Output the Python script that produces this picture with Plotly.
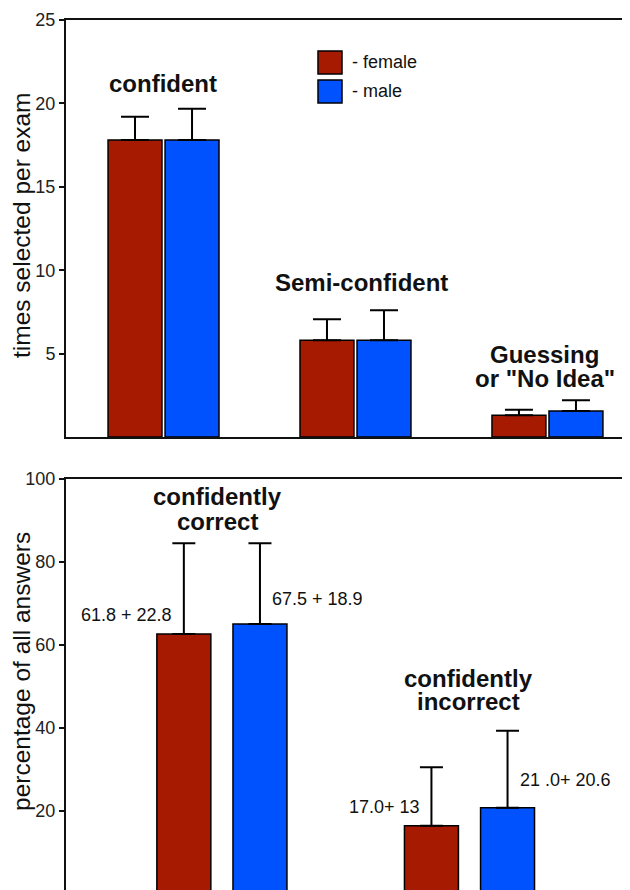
import plotly.graph_objects as go

# ---------------- data ----------------
top_categories = ['confident', 'Semi-confident', 'Guessing or "No Idea"']
top_female = [17.8, 5.8, 1.30]
top_male = [17.8, 5.8, 1.56]
top_female_err = [1.4, 1.26, 0.34]
top_male_err = [1.88, 1.8, 0.64]

bottom_categories = ['confidently correct', 'confidently incorrect']
bottom_female = [62.65, 16.46]
bottom_male = [65.06, 20.8]
bottom_female_err = [21.85, 14.05]
bottom_male_err = [19.44, 18.55]
bottom_female_text = ['61.8 + 22.8', '17.0+ 13']
bottom_male_text = ['67.5 + 18.9', '21 .0+ 20.6']

series_names = ['female', 'male']
top_ticks = [5, 10, 15, 20, 25]
bottom_ticks = [20, 40, 60, 80, 100]

# ---------------- style ----------------
FONT = 'Liberation Sans, Arial, sans-serif'
C_F = '#A51A00'
C_M = '#0052FF'
PAGE_OFF = 8            # browser default body margin
W, H = 630 - PAGE_OFF, 890 - PAGE_OFF
ML, MT = 66, 20         # plot area edges in window pixels
PH = 890 - MT


def py(p):
    return (890 - p) / PH


def px(p):
    return (p - ML) / (630 - ML)


fig = go.Figure()

bar_line = dict(color='black', width=1.5)

# top bars
bw_t = 0.281
fig.add_trace(go.Bar(x=top_categories, y=top_female, name=series_names[0],
                     marker=dict(color=C_F, line=bar_line),
                     width=bw_t, offset=-0.289,
                     error_y=dict(type='data', array=top_female_err, arrayminus=[0] * 3,
                                  symmetric=False, color='black', thickness=2, width=14),
                     xaxis='x', yaxis='y', showlegend=False))
fig.add_trace(go.Bar(x=top_categories, y=top_male, name=series_names[1],
                     marker=dict(color=C_M, line=bar_line),
                     width=bw_t, offset=0.008,
                     error_y=dict(type='data', array=top_male_err, arrayminus=[0] * 3,
                                  symmetric=False, color='black', thickness=2, width=14),
                     xaxis='x', yaxis='y', showlegend=False))

# bottom bars
bw_b = 0.218
fig.add_trace(go.Bar(x=bottom_categories, y=bottom_female, name=series_names[0],
                     marker=dict(color=C_F, line=bar_line),
                     width=bw_b, offset=-0.263,
                     error_y=dict(type='data', array=bottom_female_err, arrayminus=[0] * 2,
                                  symmetric=False, color='black', thickness=2, width=11.5),
                     xaxis='x2', yaxis='y2', showlegend=False))
fig.add_trace(go.Bar(x=bottom_categories, y=bottom_male, name=series_names[1],
                     marker=dict(color=C_M, line=bar_line),
                     width=bw_b, offset=0.0444,
                     error_y=dict(type='data', array=bottom_male_err, arrayminus=[0] * 2,
                                  symmetric=False, color='black', thickness=2, width=11.5),
                     xaxis='x2', yaxis='y2', showlegend=False))

tickfont = dict(family=FONT, size=18, color='#222')
fig.update_layout(
    width=W, height=H,
    margin=dict(l=ML - PAGE_OFF, r=0, t=MT - PAGE_OFF, b=0, autoexpand=False),
    plot_bgcolor='white', paper_bgcolor='white',
    font=dict(family=FONT, color='#111'),
    xaxis=dict(domain=[0, 1], anchor='y', range=[-0.508, 2.43], showline=True, mirror=True,
               linecolor='#111', linewidth=2, showticklabels=False, ticks='', showgrid=False,
               zeroline=False, fixedrange=True),
    yaxis=dict(domain=[py(437), 1], anchor='x', range=[0, 25], tickvals=top_ticks,
               ticks='outside', ticklen=5, tickwidth=1.5, tickcolor='#111',
               showline=True, linecolor='#111', linewidth=2, showgrid=False, zeroline=False,
               tickfont=tickfont),
    xaxis2=dict(domain=[0, 1], anchor='y2', side='top', range=[-0.63, 1.648], showline=True,
                linecolor='#111', linewidth=2, showticklabels=False, ticks='', showgrid=False,
                zeroline=False),
    yaxis2=dict(domain=[0, py(479)], anchor='x2', range=[0.96, 100], tickvals=bottom_ticks,
                ticks='outside', ticklen=5, tickwidth=1.5, tickcolor='#111',
                showline=True, linecolor='#111', linewidth=2, showgrid=False, zeroline=False,
                tickfont=tickfont),
)

ann = []
bold = dict(family=FONT, size=24, color='#111')
# category labels (line text, axis, category, y value, xshift)
cat_lines = [
    ('<b>confident</b>', 'x', top_categories[0], 21.2, -1),
    ('<b>Semi-confident</b>', 'x', top_categories[1], 9.29, 6),
    ('<b>Guessing</b>', 'x', top_categories[2], 4.95, -3),
    ('<b>or "No Idea"</b>', 'x', top_categories[2], 3.5, -2),
    ('<b>confidently</b>', 'x2', bottom_categories[0], 95.7, -4),
    ('<b>correct</b>', 'x2', bottom_categories[0], 89.8, -4),
    ('<b>confidently</b>', 'x2', bottom_categories[1], 51.9, -1),
    ('<b>incorrect</b>', 'x2', bottom_categories[1], 46.4, -1),
]
for t, xa, xc, yv, xs in cat_lines:
    ann.append(dict(text=t, xref=xa, yref='y' if xa == 'x' else 'y2', x=xc, y=yv,
                    xshift=xs, showarrow=False, font=bold, xanchor='center', yanchor='middle'))

# value labels
valfont = dict(family=FONT, size=18, color='#111')
f_y = [67.2, 21.0]
m_y = [71.0, 27.5]
for i, c in enumerate(bottom_categories):
    ann.append(dict(text=bottom_female_text[i], xref='x2', yref='y2', x=c, y=f_y[i],
                    xshift=-48, showarrow=False, font=valfont, xanchor='right', yanchor='middle'))
    ann.append(dict(text=bottom_male_text[i], xref='x2', yref='y2', x=c, y=m_y[i],
                    xshift=48, showarrow=False, font=valfont, xanchor='left', yanchor='middle'))

# axis titles
titlefont = dict(family=FONT, size=24.5, color='#111')
ann.append(dict(text='times selected per exam', xref='paper', yref='paper', x=px(21), y=py(225),
                textangle=-90, showarrow=False, font=titlefont, xanchor='center', yanchor='middle'))
ann.append(dict(text='percentage of all answers', xref='paper', yref='paper', x=px(21), y=py(672),
                textangle=-90, showarrow=False, font=titlefont, xanchor='center', yanchor='middle'))

# legend
legfont = dict(family=FONT, size=18, color='#111')
shapes = []
for name, col, y0, y1 in [(series_names[0], C_F, 51, 74), (series_names[1], C_M, 80, 103)]:
    shapes.append(dict(type='rect', xref='paper', yref='paper', x0=px(318), x1=px(342),
                       y0=py(y1), y1=py(y0), fillcolor=col, line=dict(color='black', width=1.5)))
    ann.append(dict(text='- ' + name, xref='paper', yref='paper', x=px(350), y=py((y0 + y1) / 2),
                    showarrow=False, font=legfont, xanchor='left', yanchor='middle'))

fig.update_layout(annotations=ann, shapes=shapes)
fig.write_html('out.html')
